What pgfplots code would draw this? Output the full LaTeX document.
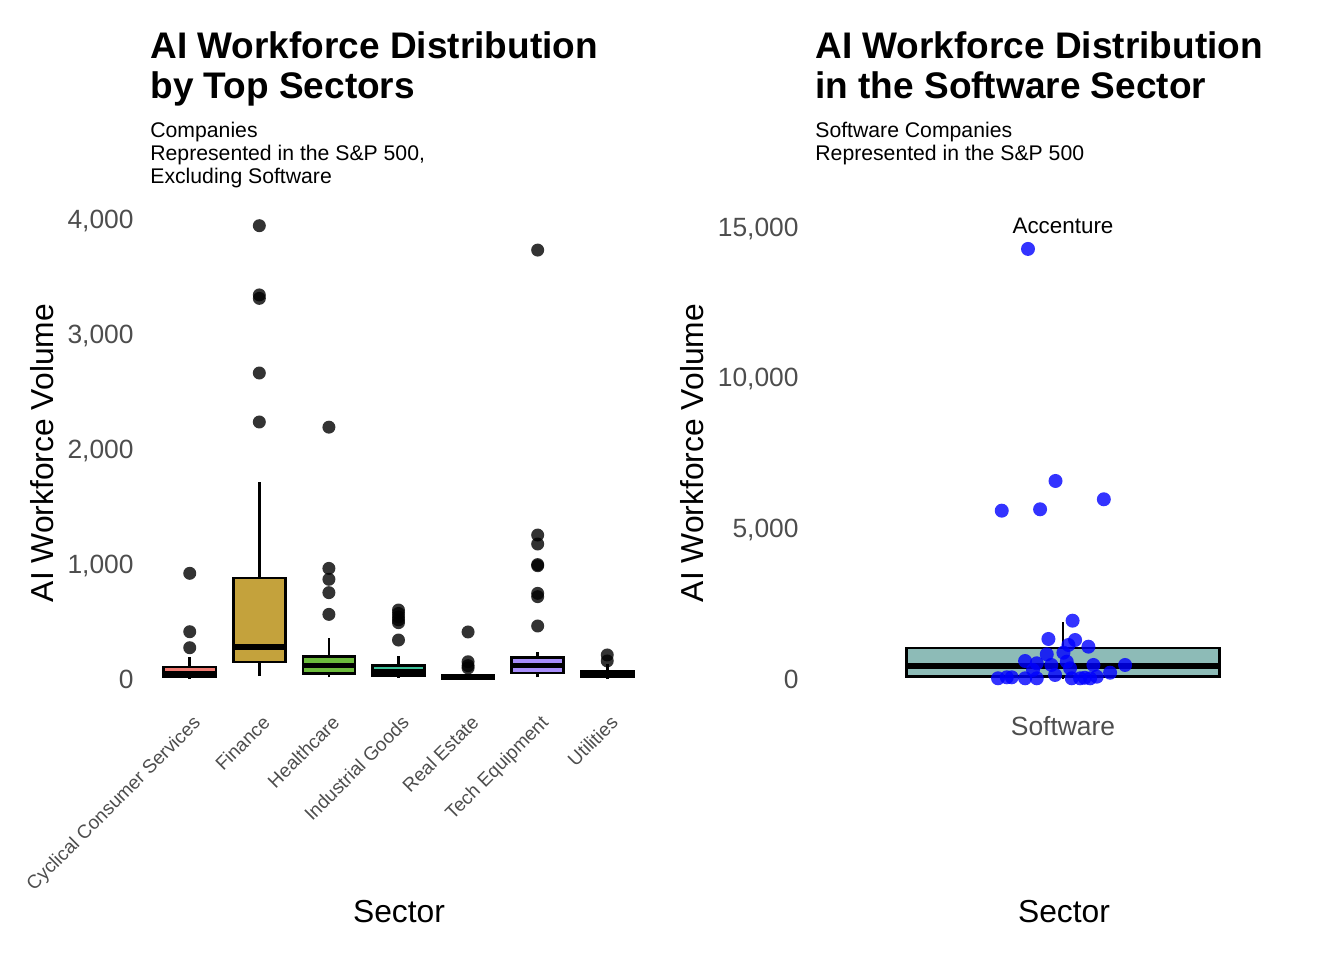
\documentclass[border=0pt]{standalone}
\usepackage{fontspec}
\setmainfont{Liberation Sans}
\usepackage{pgfplots}
\pgfplotsset{compat=1.18}
\definecolor{tickgray}{HTML}{4D4D4D}
\definecolor{cyc}{HTML}{F07A72}
\definecolor{fin}{HTML}{C4A23C}
\definecolor{hc}{HTML}{6CBB3C}
\definecolor{ind}{HTML}{3DC29A}
\definecolor{re}{HTML}{3DB6E8}
\definecolor{tech}{HTML}{A88EFA}
\definecolor{util}{HTML}{F06AD4}
\definecolor{soft}{HTML}{8DBBB7}
% #1 colour, #2 x, #3 left, #4 right, #5 lower whisker, #6 Q1, #7 median, #8 Q3, #9 upper whisker
\newcommand\bx[9]{%
 \addplot[black, line width=1.3pt] coordinates {(#2,#5) (#2,#9)};
 \addplot[draw=black, line width=1.3pt, fill=#1] coordinates {(#3,#6) (#4,#6) (#4,#8) (#3,#8)} -- cycle;
 \addplot[black, line width=2.6pt] coordinates {(#3,#7) (#4,#7)};
}
\pgfplotsset{
  outl/.style={only marks, color=black, mark=*, mark size=3.25pt,
    mark options={fill=black, draw opacity=0, fill opacity=0.8}},
}
\begin{document}
\begin{tikzpicture}
\path[use as bounding box] (0,0) rectangle (672pt,480pt);

% ---------------- left panel ----------------
\begin{axis}[
  at={(74pt,129pt)}, anchor=south west,
  scale only axis, width=250.5pt, height=250pt,
  xmin=0.4, xmax=7.6, ymin=-200, ymax=4148,
  axis line style={draw=none}, tick style={draw=none},
  clip=false, scaled y ticks=false,
  xtick={1,2,3,4,5,6,7},
  xticklabels={Cyclical Consumer Services,Finance,Healthcare,Industrial Goods,Real Estate,Tech Equipment,Utilities},
  ytick={0,1000,2000,3000,4000},
  /pgf/number format/assume math mode=true,
  /pgf/number format/1000 sep={,},
  yticklabel style={font=\fontsize{13.2}{15}\selectfont, text=tickgray, inner sep=0pt, text depth=0pt, xshift=-7pt},
  xticklabel style={font=\fontsize{9.5}{11}\selectfont, text=tickgray, inner sep=0pt, xshift=1pt, yshift=-5.9pt, rotate=45, anchor=north east},
]
\addplot[outl] coordinates {
 (1,919) (1,411) (1,272)
 (2,3942) (2,3340) (2,3310) (2,2661) (2,2235)
 (3,2190) (3,962) (3,867) (3,751) (3,562)
 (4,600) (4,570) (4,540) (4,515) (4,490) (4,339)
 (5,409) (5,150) (5,116) (5,96)
 (6,3730) (6,1252) (6,1174) (6,995) (6,985) (6,745) (6,716) (6,461)
 (7,209) (7,157)
};
\bx{cyc}{1}{0.625}{1.375}{0}{20}{45}{105}{194}
\bx{fin}{2}{1.625}{2.375}{26}{148}{278}{878}{1713}
\bx{hc}{3}{2.625}{3.375}{15}{46}{116}{197}{354}
\bx{ind}{4}{3.625}{4.375}{10}{32}{61}{119}{200}
\bx{re}{5}{4.625}{5.375}{0}{3}{12}{30}{35}
\bx{tech}{6}{5.625}{6.375}{15}{52}{116}{189}{238}
\bx{util}{7}{6.625}{7.375}{0}{20}{45}{70}{130}
\end{axis}

% ---------------- right panel ----------------
\begin{axis}[
  at={(406.5pt,129.75pt)}, anchor=south west,
  scale only axis, width=250pt, height=236.9pt,
  xmin=0.4, xmax=1.6, ymin=-714, ymax=15010,
  axis line style={draw=none}, tick style={draw=none},
  clip=false, scaled y ticks=false,
  xtick={1}, xticklabels={Software},
  ytick={0,5000,10000,15000},
  /pgf/number format/assume math mode=true,
  /pgf/number format/1000 sep={,},
  yticklabel style={font=\fontsize{13.2}{15}\selectfont, text=tickgray, inner sep=0pt, text depth=0pt, xshift=-7pt},
  xticklabel style={font=\fontsize{13.2}{15}\selectfont, text=tickgray, anchor=north, inner sep=0pt, yshift=-7.8pt},
]
\bx{soft}{1}{0.625}{1.375}{0}{80}{431}{1030}{1902}
\addplot[only marks, color=blue, mark=*, mark size=3.5pt, mark options={fill=blue, draw opacity=0, fill opacity=0.8}] coordinates {
 (0.916,14272) (0.982,6572) (0.853,5586) (0.945,5632) (1.098,5964)
 (1.023,1935) (0.965,1328) (1.029,1294) (1.061,1072) (0.961,820)
 (1.001,873) (1.013,1128) (0.909,597) (0.937,521) (1.009,574)
 (1.073,465) (1.149,465) (1.017,355) (0.865,56) (0.877,56)
 (0.909,23) (0.937,23) (0.981,133) (1.021,23) (1.041,23)
 (1.065,23) (1.081,76) (1.113,209) (0.928,299) (0.844,23)
 (0.972,466) (1.052,40)
};
\node[font=\fontsize{11.2}{13}\selectfont] at (axis cs:1,15035) {Accenture};
\end{axis}

% ---------------- titles and axis titles ----------------
\begin{scope}[every node/.style={anchor=base west, inner sep=0pt}]
\node[font=\fontsize{18.5}{20}\selectfont\bfseries] at (75pt,450.75pt) {AI Workforce Distribution};
\node[font=\fontsize{18.5}{20}\selectfont\bfseries] at (75pt,430.5pt) {by Top Sectors};
\node[font=\fontsize{10.6}{12}\selectfont] at (75pt,411.25pt) {Companies};
\node[font=\fontsize{10.6}{12}\selectfont] at (75pt,399.75pt) {Represented in the S\&P 500,};
\node[font=\fontsize{10.6}{12}\selectfont] at (75pt,388.25pt) {Excluding Software};
\node[font=\fontsize{18.5}{20}\selectfont\bfseries] at (407.5pt,450.75pt) {AI Workforce Distribution};
\node[font=\fontsize{18.5}{20}\selectfont\bfseries] at (407.5pt,430.5pt) {in the Software Sector};
\node[font=\fontsize{10.6}{12}\selectfont] at (407.5pt,411.25pt) {Software Companies};
\node[font=\fontsize{10.6}{12}\selectfont] at (407.5pt,399.75pt) {Represented in the S\&P 500};
\end{scope}
\node[font=\fontsize{15.9}{18}\selectfont, rotate=90] at (21pt,253.5pt) {AI Workforce Volume};
\node[font=\fontsize{15.9}{18}\selectfont, rotate=90] at (346pt,253.5pt) {AI Workforce Volume};
\node[font=\fontsize{15.9}{18}\selectfont] at (199.5pt,24pt) {Sector};
\node[font=\fontsize{15.9}{18}\selectfont] at (532pt,24pt) {Sector};
\end{tikzpicture}
\end{document}
